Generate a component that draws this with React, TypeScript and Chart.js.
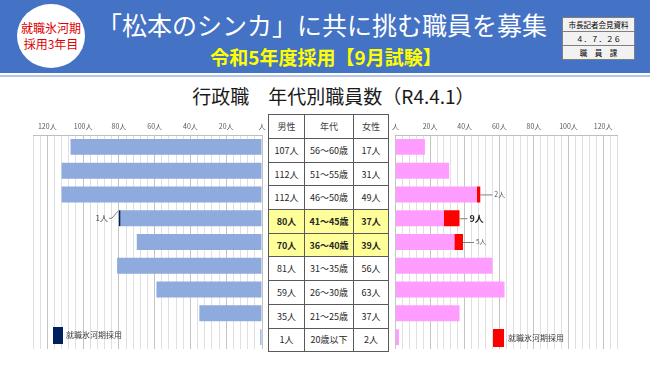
import React, { useEffect, useRef } from 'react';
import { Chart, registerables } from 'chart.js';

Chart.register(...registerables);

// ---- data ----
const ageGroups = ['56～60歳', '51～55歳', '46～50歳', '41～45歳', '36～40歳', '31～35歳', '26～30歳', '21～25歳', '20歳以下'];
const maleTotals = [107, 112, 112, 80, 70, 81, 59, 35, 1];
const maleGlacier = [0, 0, 0, 1, 0, 0, 0, 0, 0];
const femaleTotals = [17, 31, 49, 37, 39, 56, 63, 37, 2];
const femaleGlacier = [0, 0, 2, 9, 5, 0, 0, 0, 0];
const highlightedRows = [3, 4];
const tableHeaders = ['男性', '年代', '女性'];
const axisMax = 128;
const tickStep = 4;
const labelStep = 20;
const unit = '人';
const legendLabel = '就職氷河期採用';
const chartTitle = '行政職　年代別職員数（R4.4.1）';
const headerTitle = '「松本のシンカ」に共に挑む職員を募集';
const headerSub = '令和5年度採用【9月試験】';
const badgeLines = ['就職氷河期', '採用3年目'];
const stampLines = ['市長記者会見資料', '４．７．２６', '職　員　課'];

const FONT = '"Noto Sans CJK JP", "Noto Sans", sans-serif';
const MALE = '#8FAADC';
const MALE_G = '#002060';
const FEMALE = '#FF9CFF';
const FEMALE_G = '#FF0000';

type LeaderStyle = { len: number; size: number; bold: boolean; color: string };
const rightLeaderStyles: Record<number, LeaderStyle> = {
  2: { len: 12, size: 7, bold: false, color: '#595959' },
  3: { len: 8, size: 9, bold: true, color: '#262626' },
  4: { len: 11, size: 6.5, bold: false, color: '#595959' },
};
const leftLeaderStyle: LeaderStyle = { len: 10, size: 8, bold: false, color: '#404040' };

function makeLeaderPlugin(side: 'left' | 'right') {
  return {
    id: 'leader-' + side,
    afterDatasetsDraw(chart: any) {
      const meta = chart.getDatasetMeta(1);
      const data = chart.data.datasets[1].data as number[];
      const ctx = chart.ctx as CanvasRenderingContext2D;
      ctx.save();
      meta.data.forEach((el: any, i: number) => {
        const v = data[i];
        if (!v) return;
        const { x, y, height } = el.getProps(['x', 'y', 'height'], true);
        const st = side === 'left' ? leftLeaderStyle : (rightLeaderStyles[i] || rightLeaderStyles[2]);
        ctx.strokeStyle = '#7f7f7f';
        ctx.lineWidth = 1;
        ctx.fillStyle = st.color;
        ctx.font = `${st.bold ? 'bold ' : ''}${st.size}px ${FONT}`;
        ctx.textBaseline = 'middle';
        const text = `${v}${unit}`;
        if (side === 'left') {
          ctx.beginPath();
          ctx.moveTo(x - 1, y - height / 2 + 1);
          ctx.lineTo(x - 7, y);
          ctx.lineTo(x - 10, y);
          ctx.stroke();
          ctx.textAlign = 'right';
          ctx.fillText(text, x - 11, y);
        } else {
          ctx.beginPath();
          ctx.moveTo(x, y + 0.5);
          ctx.lineTo(x + st.len, y + 0.5);
          ctx.stroke();
          ctx.textAlign = 'left';
          ctx.fillText(text, x + st.len + 2, y);
        }
      });
      ctx.restore();
    },
  };
}

function makeConfig(side: 'left' | 'right'): any {
  const totals = side === 'left' ? maleTotals : femaleTotals;
  const glacier = side === 'left' ? maleGlacier : femaleGlacier;
  const regular = totals.map((t, i) => t - glacier[i]);
  return {
    type: 'bar',
    data: {
      labels: ageGroups,
      datasets: [
        {
          data: regular,
          backgroundColor: side === 'left' ? MALE : FEMALE,
          barPercentage: 0.67,
          categoryPercentage: 1,
        },
        {
          data: glacier,
          backgroundColor: side === 'left' ? MALE_G : FEMALE_G,
          barPercentage: 0.67,
          categoryPercentage: 1,
        },
      ],
    },
    options: {
      indexAxis: 'y',
      responsive: false,
      animation: false,
      layout: {
        padding: side === 'left'
          ? { left: 33, right: 8, top: 0, bottom: 11 }
          : { left: 6, right: 33, top: 0, bottom: 11 },
      },
      plugins: {
        legend: { display: false },
        tooltip: { enabled: false },
        title: { display: false },
      },
      scales: {
        x: {
          type: 'linear',
          position: 'top',
          reverse: side === 'left',
          stacked: true,
          min: 0,
          max: axisMax,
          afterFit: (s: any) => { s.height = 25; },
          ticks: {
            stepSize: tickStep,
            autoSkip: false,
            maxRotation: 0,
            padding: 4,
            color: '#595959',
            font: { family: FONT, size: 7 },
            callback: (v: any) => {
              const n = Number(v);
              if (n % labelStep !== 0) return '';
              return n === 0 ? unit : `${n}${unit}`;
            },
          },
          grid: {
            drawTicks: false,
            color: (c: any) => (c.tick && c.tick.value % labelStep === 0 ? '#c4c4c4' : '#e0e0e0'),
            lineWidth: 1,
          },
          border: { display: true, color: '#bfbfbf' },
        },
        y: {
          type: 'category',
          stacked: true,
          display: false,
        },
      },
    },
    plugins: [makeLeaderPlugin(side)],
  };
}

function SideChart({ side, left, width }: { side: 'left' | 'right'; left: number; width: number }) {
  const ref = useRef<HTMLCanvasElement>(null);
  useEffect(() => {
    if (!ref.current) return;
    const chart = new Chart(ref.current, makeConfig(side));
    return () => chart.destroy();
  }, [side]);
  return (
    <canvas
      ref={ref}
      width={width}
      height={250}
      style={{ position: 'absolute', left, top: 110, width, height: 250 }}
    />
  );
}

export default function App() {
  const rowH = 23.7;
  return (
    <div style={{ position: 'fixed', left: 0, top: 0, width: 650, height: 365, background: '#fff', overflow: 'hidden', fontFamily: FONT }}>
      {/* header band */}
      <div style={{ position: 'absolute', left: 0, top: 0, width: 650, height: 73, background: '#4472C4' }} />
      <div style={{ position: 'absolute', left: 0, top: 75, width: 650, height: 2, background: '#B4C7E7' }} />
      {/* badge */}
      <div style={{ position: 'absolute', left: 17, top: 4, width: 68, height: 64, borderRadius: '50%', background: '#fff', display: 'flex', flexDirection: 'column', alignItems: 'center', justifyContent: 'center' }}>
        {badgeLines.map((t) => (
          <div key={t} style={{ color: '#E00000', fontSize: 12, lineHeight: '16px', whiteSpace: 'nowrap' }}>{t}</div>
        ))}
      </div>
      <div style={{ position: 'absolute', left: 0, width: 644, top: 9, textAlign: 'center', color: '#fff', fontSize: 25, lineHeight: '30px', whiteSpace: 'nowrap' }}>{headerTitle}</div>
      <div style={{ position: 'absolute', left: 0, width: 652, top: 45, textAlign: 'center', color: '#FFFF00', fontSize: 19, fontWeight: 'bold', lineHeight: '24px', whiteSpace: 'nowrap' }}>{headerSub}</div>
      {/* stamp box */}
      <div style={{ position: 'absolute', left: 562, top: 17, width: 73, background: '#F2F2F2', border: '1px solid #7F7F7F', boxSizing: 'border-box' }}>
        {stampLines.map((t, i) => (
          <div key={t} style={{ height: 13, lineHeight: '13px', fontSize: 7.5, color: '#000', textAlign: 'center', borderTop: i ? '1px solid #7F7F7F' : 'none', whiteSpace: 'nowrap' }}>{t}</div>
        ))}
      </div>
      {/* chart title */}
      <div style={{ position: 'absolute', left: 0, width: 667, top: 83, textAlign: 'center', color: '#1a1a1a', fontSize: 19, lineHeight: '26px', whiteSpace: 'nowrap' }}>{chartTitle}</div>

      <SideChart side="left" left={0} width={270} />
      <SideChart side="right" left={388} width={262} />

      {/* center table */}
      <div style={{ position: 'absolute', left: 268, top: 114, display: 'grid', gridTemplateColumns: '36px 49px 35px', gridTemplateRows: `24px repeat(${ageGroups.length}, ${rowH}px)`, borderTop: '1px solid #595959', borderLeft: '1px solid #595959', background: '#fff' }}>
        {tableHeaders.map((h) => (
          <div key={h} style={{ borderRight: '1px solid #595959', borderBottom: '1px solid #595959', display: 'flex', alignItems: 'center', justifyContent: 'center', fontSize: 9, color: '#404040' }}>{h}</div>
        ))}
        {ageGroups.map((age, i) => {
          const hl = highlightedRows.includes(i);
          const cells = [`${maleTotals[i]}${unit}`, age, `${femaleTotals[i]}${unit}`];
          return cells.map((c, j) => (
            <div key={`${i}-${j}`} style={{ borderRight: '1px solid #595959', borderBottom: '1px solid #595959', display: 'flex', alignItems: 'center', justifyContent: 'center', fontSize: 9, color: '#262626', fontWeight: hl ? 'bold' : 'normal', background: hl ? '#FFFF99' : '#fff', whiteSpace: 'nowrap' }}>{c}</div>
          ));
        })}
      </div>

      {/* legends */}
      <div style={{ position: 'absolute', left: 53, top: 327, width: 10, height: 17, background: MALE_G }} />
      <div style={{ position: 'absolute', left: 66, top: 328, fontSize: 8, lineHeight: '14px', color: '#404040', whiteSpace: 'nowrap' }}>{legendLabel}</div>
      <div style={{ position: 'absolute', left: 493, top: 329, width: 11, height: 18, background: FEMALE_G }} />
      <div style={{ position: 'absolute', left: 508, top: 331, fontSize: 8, lineHeight: '14px', color: '#404040', whiteSpace: 'nowrap' }}>{legendLabel}</div>
    </div>
  );
}
